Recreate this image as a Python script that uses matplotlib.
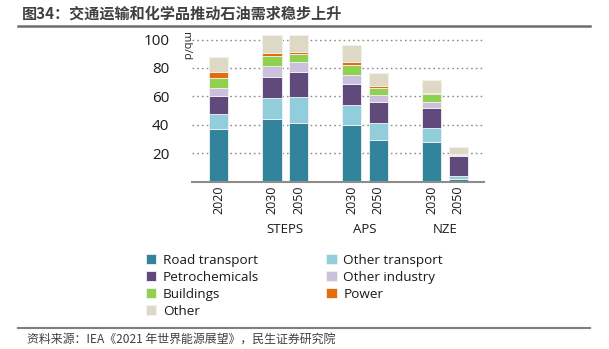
import matplotlib
matplotlib.use("Agg")
import matplotlib.pyplot as plt
from matplotlib.lines import Line2D
import numpy as np

plt.rcParams['font.family'] = ['Open Sans', 'Noto Sans CJK SC', 'DejaVu Sans']

years = ["2020", "2030", "2050", "2030", "2050", "2030", "2050"]
positions = [0, 2, 3, 5, 6, 8, 9]
groups = ["STEPS", "APS", "NZE"]
group_pos = [2.5, 5.5, 8.5]

sectors = ["Road transport", "Other transport", "Petrochemicals", "Other industry",
           "Buildings", "Power", "Other"]
road_transport  = [37.3, 43.9, 41.5, 40.1, 29.1, 27.7, 2.1]
other_transport = [10.1, 15.0, 18.3, 14.1, 12.2,  9.9, 2.1]
petrochemicals  = [12.7, 15.0, 17.2, 14.3, 14.6, 14.1, 13.9]
other_industry  = [ 6.1,  7.3,  7.2,  6.8,  4.9,  4.4, 0.4]
buildings       = [ 7.0,  7.0,  5.4,  6.6,  4.9,  5.4, 1.0]
power           = [ 3.8,  2.1,  1.7,  2.1,  1.4,  0.9, 0.1]
other           = [10.8, 12.7, 11.7, 12.0,  9.6,  9.4, 4.7]
series = [road_transport, other_transport, petrochemicals, other_industry,
          buildings, power, other]
colors = ["#31849B", "#92CDDC", "#604A7B", "#CCC1DA", "#92D050", "#E46C0A", "#DDD9C4"]

fig = plt.figure(figsize=(6.09, 3.49), dpi=100)
ax = fig.add_axes([0.3148, 0.4794, 0.4799, 0.4318])

bottom = np.zeros(len(years))
handles = []
for vals, col, name in zip(series, colors, sectors):
    b = ax.bar(positions, vals, width=0.72, bottom=bottom, color=col,
               edgecolor="#f2f2f2", linewidth=0.6, label=name, zorder=3)
    handles.append(b)
    bottom += np.array(vals)

ax.set_xlim(-1.02, 9.97)
ax.set_ylim(0, 106)
ax.set_yticks([20, 40, 60, 80, 100])
ax.yaxis.grid(True, linestyle=(0, (1.2, 2.2)), color="#8c8c8c", linewidth=1.0, zorder=0)
ax.tick_params(axis='y', length=0, pad=16, labelsize=11, labelcolor="#1a1a1a")
ax.tick_params(axis='x', length=0, pad=3, labelsize=9, labelcolor="#1a1a1a")
ax.set_xticks(positions)
ax.set_xticklabels(years, rotation=90)
for s in ["top", "right", "left"]:
    ax.spines[s].set_visible(False)
ax.spines["bottom"].set_color("#8c8c8c")
ax.spines["bottom"].set_linewidth(1.5)
ax.spines["bottom"].set_zorder(4)

for g, p in zip(groups, group_pos):
    ax.text(p, -0.32, g, transform=ax.get_xaxis_transform(), ha="center", va="center",
            fontsize=9.5, color="#1a1a1a")

fig.text(186 / 609, 1 - 46 / 349, "mb/d", rotation=270, ha="center", va="center",
         fontsize=8, color="#262626")

order = [0, 2, 4, 6, 1, 3, 5]
leg = fig.legend([handles[i] for i in order], [sectors[i] for i in order], ncol=2,
                 loc="upper left", bbox_to_anchor=(146 / 609, 1 - 254 / 349),
                 frameon=False, fontsize=9.7, handlelength=0.75, handleheight=0.75,
                 handletextpad=0.5, columnspacing=5.0, labelspacing=0.3,
                 borderaxespad=0, borderpad=0)
for t in leg.get_texts():
    t.set_color("#1a1a1a")

# Title and decorations
fig.text(22 / 609, 1 - 14 / 349, "图34：交通运输和化学品推动石油需求稳步上升", ha="left",
         va="center", fontsize=10.9, fontweight="bold", color="#404040",
         family=['Noto Sans CJK SC', 'DejaVu Sans'])
fig.add_artist(Line2D([18 / 609, 590 / 609], [1 - 26 / 349, 1 - 26 / 349],
                      color="#6f6f6f", linewidth=1.8, transform=fig.transFigure))
fig.add_artist(Line2D([18 / 609, 590 / 609], [1 - 328 / 349, 1 - 328 / 349],
                      color="#7f7f7f", linewidth=1.5, transform=fig.transFigure))
fig.text(27 / 609, 1 - 339 / 349, "资料来源：IEA《2021 年世界能源展望》，民生证券研究院",
         ha="left", va="center", fontsize=8.6, color="#404040",
         family=['Noto Sans CJK SC', 'DejaVu Sans'])

fig.savefig("out.png", dpi=100)
